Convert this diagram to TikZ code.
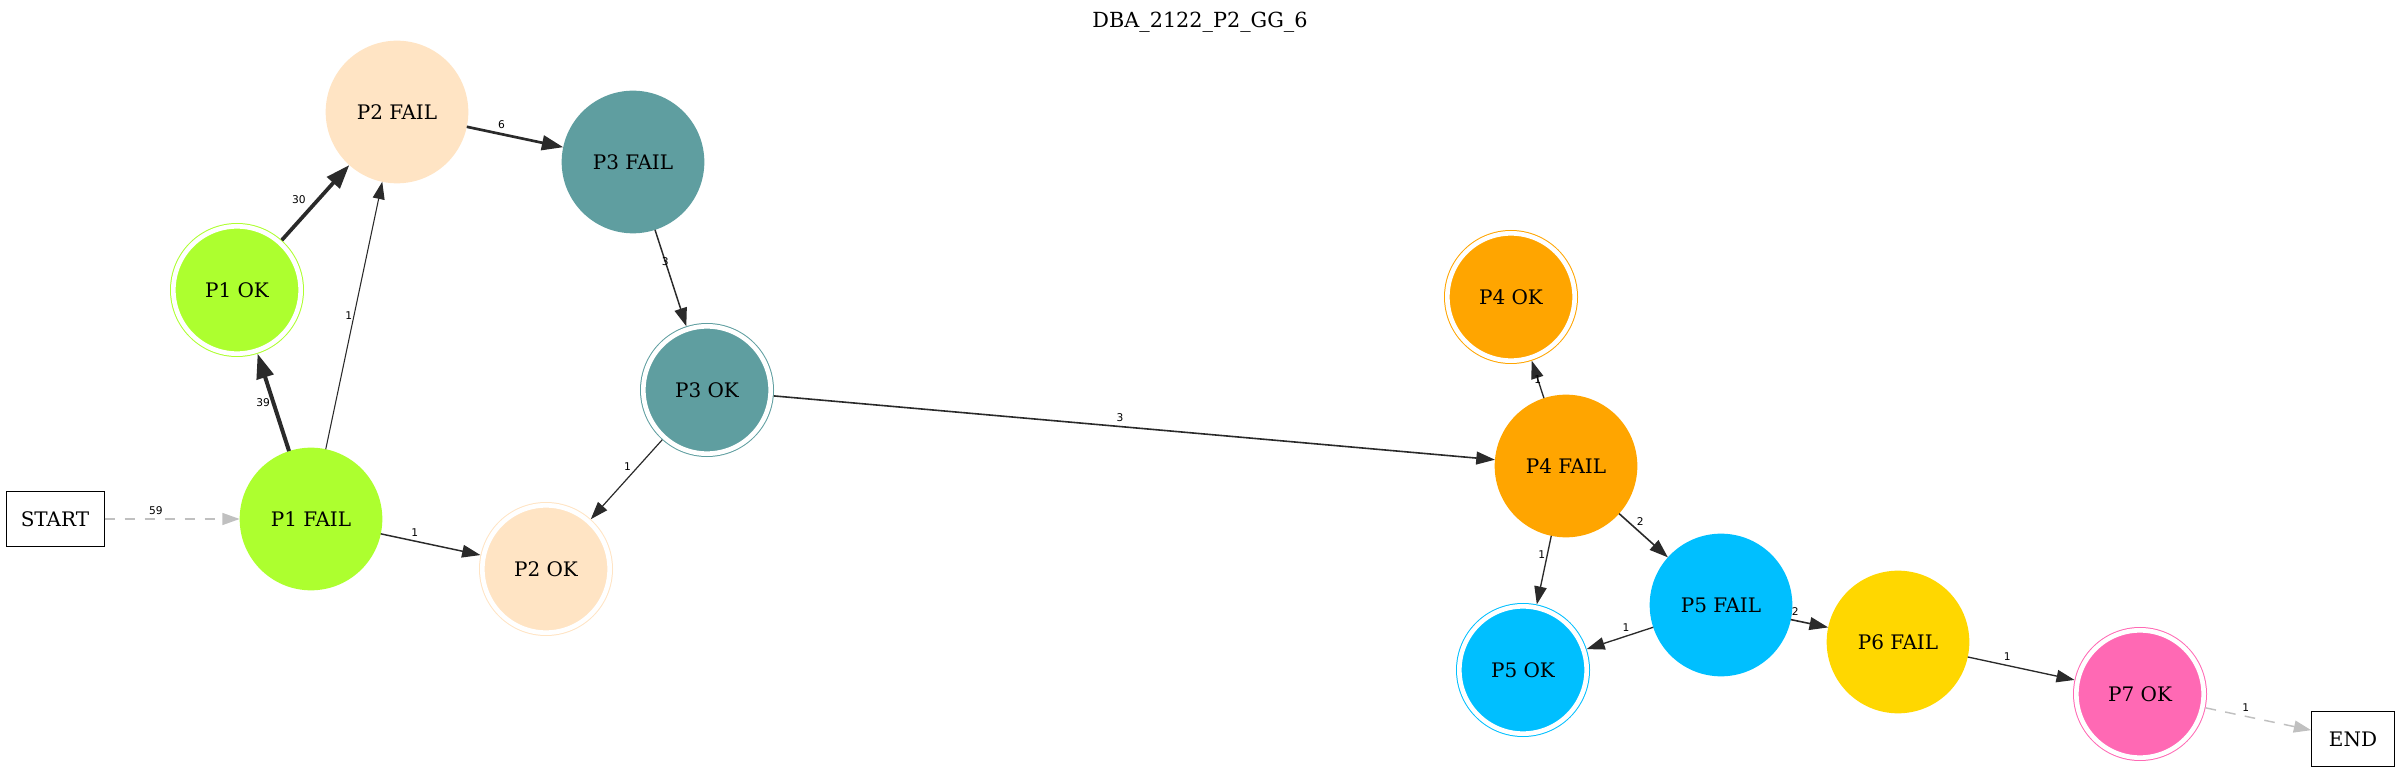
\documentclass[tikz,border=0pt]{standalone}
\usepackage{fontspec}
\setmainfont{DejaVu Serif}
\newfontfamily\cntfont{DejaVu Sans}
\usepackage{tikz}
\usetikzlibrary{arrows.meta}

\definecolor{pone}{HTML}{ADFF2F}
\definecolor{ptwo}{HTML}{FFE4C4}
\definecolor{pthree}{HTML}{5F9EA0}
\definecolor{pfour}{HTML}{FFA500}
\definecolor{pfive}{HTML}{00BFFF}
\definecolor{psix}{HTML}{FFD700}
\definecolor{pseven}{HTML}{FF69B4}
\definecolor{edgecol}{HTML}{2A2A2A}
\definecolor{startcol}{HTML}{C0C0C0}

\begin{document}
\begin{tikzpicture}[x=0.75pt, y=-0.75pt,
        every node/.style={font=\fontsize{15}{18}\selectfont},
        fail/.style={circle, fill=#1, minimum size=107pt, inner sep=0pt, outer sep=0pt},
        okay/.style={circle, draw=#1, fill=#1, line width=0.75pt, double=white,
            double distance=3.5pt, minimum size=95.5pt, inner sep=0pt, outer sep=2.5pt},
        endpt/.style={rectangle, draw, line width=0.75pt, minimum width=73.5pt, minimum height=41pt},
        edge/.style={draw=edgecol, line width=#1, -{Triangle[length=11pt 2.5, width=7.5pt 1.8]}},
        dashedge/.style={draw=startcol, line width=1.1pt, dash pattern=on 8pt off 7pt,
            -{Triangle[length=13pt, width=9pt]}},
        cnt/.style={font=\cntfont\fontsize{8}{9}\selectfont, inner sep=1pt}]
    \useasboundingbox (0,0) rectangle (2400,773);

    \node (title) [font=\fontsize{15.6}{18}\selectfont] at (1200,22) {DBA\_2122\_P2\_GG\_6};
    \node (start) [endpt]          at (55,519)   {START};
    \node (p1f)   [fail=pone]      at (311,519)  {P1 FAIL};
    \node (p1o)   [okay=pone]      at (237,290)  {P1 OK};
    \node (p2f)   [fail=ptwo]      at (397,112)  {P2 FAIL};
    \node (p2o)   [okay=ptwo]      at (546,569)  {P2 OK};
    \node (p3f)   [fail=pthree]    at (633,162)  {P3 FAIL};
    \node (p3o)   [okay=pthree]    at (707,390)  {P3 OK};
    \node (p4f)   [fail=pfour]     at (1566,466) {P4 FAIL};
    \node (p4o)   [okay=pfour]     at (1511,297) {P4 OK};
    \node (p5f)   [fail=pfive]     at (1721,605) {P5 FAIL};
    \node (p5o)   [okay=pfive]     at (1523,670) {P5 OK};
    \node (p6f)   [fail=psix]      at (1898,642) {P6 FAIL};
    \node (p7o)   [okay=pseven]    at (2140,694) {P7 OK};
    \node (end)   [endpt, minimum width=62pt] at (2353,739) {END};

    \draw[dashedge]    (start) -- (p1f) node[cnt, pos=0.38, above=2pt]{59};
    \draw[edge=3pt]    (p1f) -- (p1o)   node[cnt, midway, left]{39};
    \draw[edge=2.8pt]  (p1o) -- (p2f)   node[cnt, pos=0.42, above left=1pt]{30};
    \draw[edge=0.8pt]  (p1f) -- (p2f)   node[cnt, midway, left]{1};
    \draw[edge=2pt]    (p2f) -- (p3f)   node[cnt, pos=0.36, above=2pt]{6};
    \draw[edge=1.1pt]  (p3f) -- (p3o)   node[cnt, pos=0.33]{3};
    \draw[edge=0.9pt]  (p3o) -- (p2o)   node[cnt, pos=0.41, above left]{1};
    \draw[edge=1.1pt]  (p1f) -- (p2o)   node[cnt, pos=0.34, above=2pt]{1};
    \draw[edge=1.2pt]  (p3o) -- (p4f)   node[cnt, pos=0.48, above=2pt]{3};
    \draw[edge=1pt]    (p4f) -- (p4o)   node[cnt, midway]{1};
    \draw[edge=1.2pt]  (p4f) -- (p5f)   node[cnt, pos=0.32, above right]{2};
    \draw[edge=1pt]    (p4f) -- (p5o)   node[cnt, pos=0.28, left]{1};
    \draw[edge=1pt]    (p5f) -- (p5o)   node[cnt, pos=0.41, above=2pt]{1};
    \draw[edge=1.2pt]  (p5f) -- (p6f)   node[cnt, pos=0.12, above=2pt]{2};
    \draw[edge=1pt]    (p6f) -- (p7o)   node[cnt, pos=0.37, above=2pt]{1};
    \draw[dashedge]    (p7o) -- (end)   node[cnt, pos=0.38, above=2pt]{1};
\end{tikzpicture}
\end{document}
